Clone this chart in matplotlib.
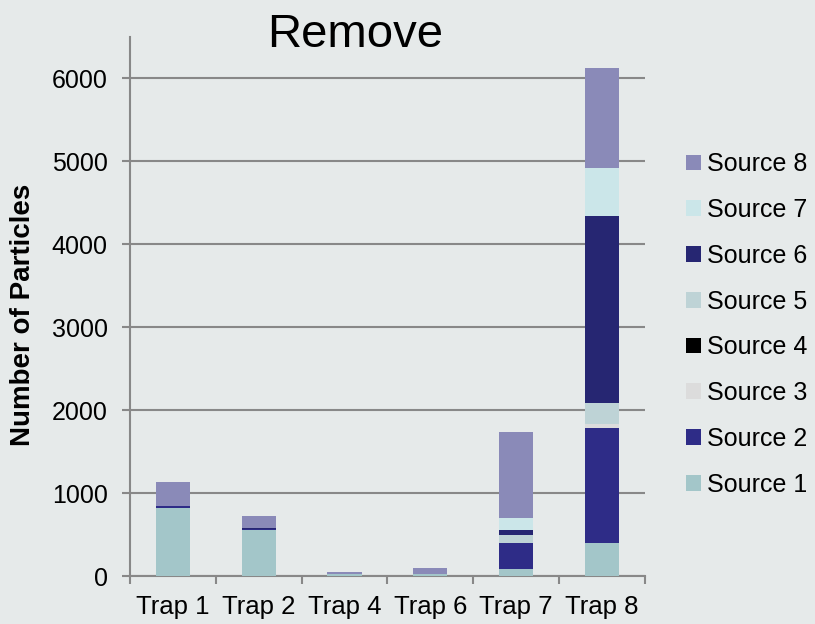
import numpy as np
import matplotlib
matplotlib.use('Agg')
import matplotlib.pyplot as plt

plt.rcParams['font.family'] = ['Liberation Sans', 'DejaVu Sans']

traps = ['Trap 1', 'Trap 2', 'Trap 4', 'Trap 6', 'Trap 7', 'Trap 8']
sources = ['Source 1', 'Source 2', 'Source 3', 'Source 4',
           'Source 5', 'Source 6', 'Source 7', 'Source 8']

# particles per source, one list per source, in trap order
source_1 = [820, 550, 20, 30, 90, 395]
source_2 = [25, 20, 0, 0, 310, 1390]
source_3 = [0, 0, 0, 0, 0, 45]
source_4 = [0, 0, 0, 0, 0, 0]
source_5 = [0, 0, 0, 0, 95, 255]
source_6 = [5, 5, 0, 0, 65, 2255]
source_7 = [0, 0, 0, 0, 135, 580]
source_8 = [285, 150, 25, 62, 1045, 1210]

colors = ['#a3c6c9', '#2e2c87', '#dcdcdc', '#000000',
          '#bed3d6', '#262672', '#cbe6e9', '#8a8ab8']

fig = plt.figure(figsize=(8.15, 6.24), dpi=100, facecolor='#e6eaea')
ax = fig.add_axes([0.1595, 0.0769, 0.6315, 0.8638])
ax.set_facecolor('#e6eaea')

x = np.arange(len(traps))
bottom = np.zeros(len(traps))
handles = []
for name, vals, c in zip(sources,
                         [source_1, source_2, source_3, source_4,
                          source_5, source_6, source_7, source_8], colors):
    b = ax.bar(x, vals, width=0.4, bottom=bottom, color=c, label=name,
               edgecolor='none', zorder=3)
    handles.append(b)
    bottom += np.array(vals)

ax.set_xlim(-0.5, 5.5)
ax.set_ylim(0, 6500)
ax.set_yticks(np.arange(0, 6001, 1000))
ax.yaxis.grid(True, color='#888888', linewidth=1.5, zorder=0)
ax.set_xticks(x)
ax.set_xticklabels(traps)
ax.set_xticks(np.arange(-0.5, 5.6, 1), minor=True)
ax.tick_params(axis='x', which='major', length=0, labelsize=18.5, pad=14)
ax.tick_params(axis='x', which='minor', length=6, width=1.5, color='#888888')
ax.tick_params(axis='y', length=6, width=1.5, color='#888888', labelsize=18, pad=10)

for side in ['top', 'right']:
    ax.spines[side].set_visible(False)
for side in ['left', 'bottom']:
    ax.spines[side].set_color('#888888')
    ax.spines[side].set_linewidth(1.5)

fig.text(0.028, 0.495, 'Number of Particles', fontsize=20, fontweight='bold',
         rotation=90, ha='center', va='center')
fig.text(0.436, 0.944, 'Remove', fontsize=34, ha='center', va='center')

fig.legend(handles[::-1], sources[::-1], loc='center left',
           bbox_to_anchor=(0.842, 0.48), frameon=False, fontsize=18,
           handlelength=0.6, handleheight=0.6, handletextpad=0.25,
           labelspacing=0.87, borderpad=0, borderaxespad=0)

fig.savefig('out.png', dpi=100, facecolor=fig.get_facecolor())
